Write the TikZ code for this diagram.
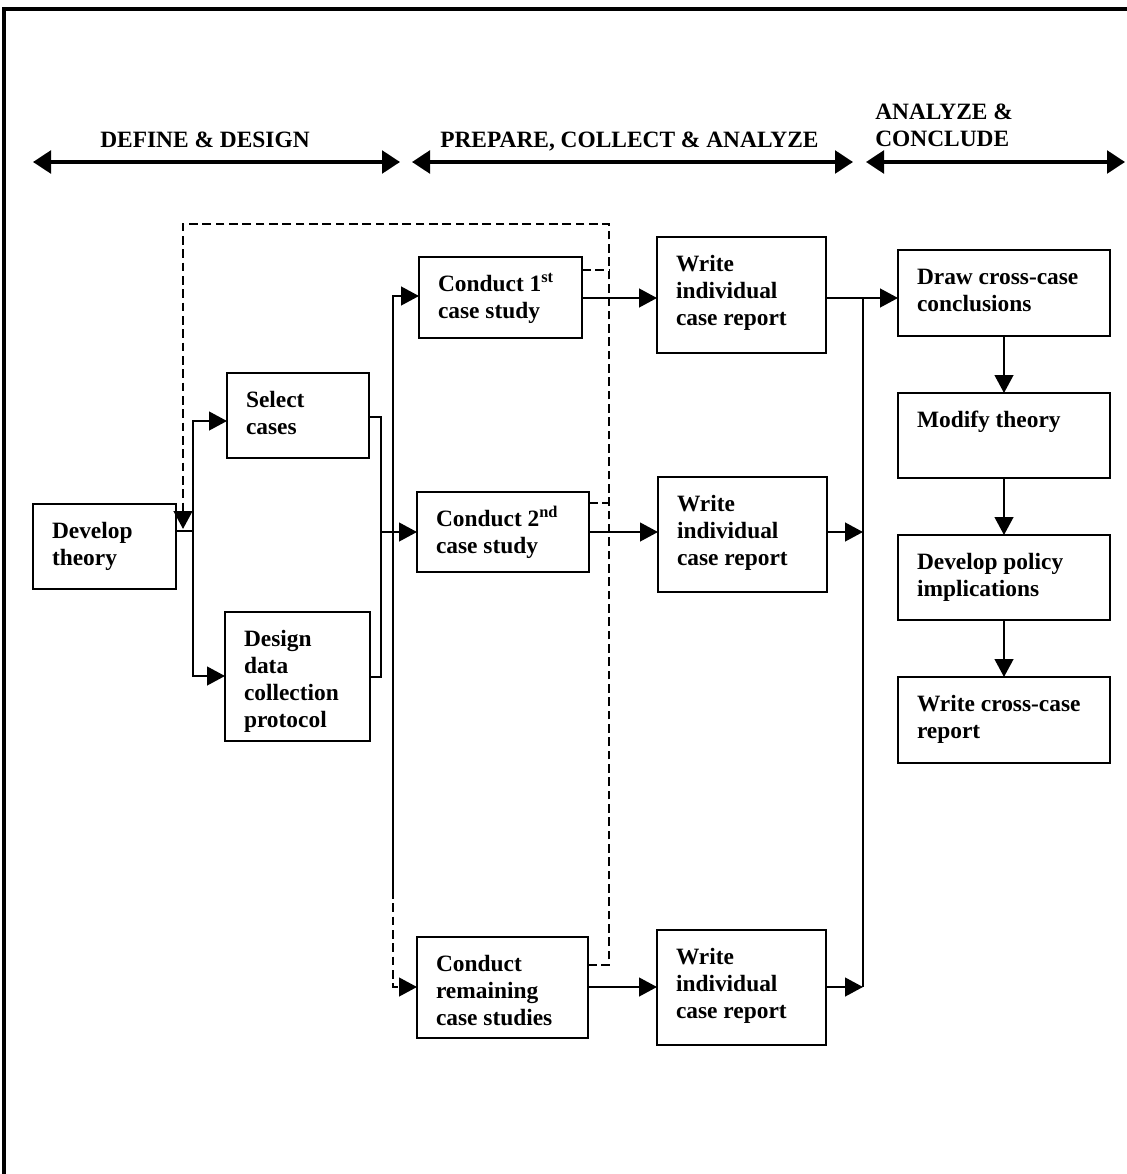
\documentclass[tikz,border=0pt]{standalone}
\usepackage{fontspec}
\setmainfont{Liberation Serif}
\usetikzlibrary{arrows.meta,calc}

% stacked left-aligned lines whose reference point is the first baseline
\newcommand\stk[1]{\begin{tabular}[t]{@{}l@{}}#1\end{tabular}}

\tikzset{
  boxstyle/.style={draw, line width=2.1pt, rectangle, inner sep=0pt, outer sep=0pt},
  stagetext/.style={inner sep=0pt, outer sep=0pt,
    font=\bfseries\fontsize{17.55}{20.25}\selectfont},
  lab/.style={inner sep=0pt, font=\bfseries\fontsize{17.55}{20.25}\selectfont},
  conn/.style={line width=1.8pt, >={Triangle[length=13.5pt,width=14pt]}},
  fb/.style={conn, dash pattern=on 6.5pt off 3.5pt},
  phase/.style={line width=2.6pt, {Triangle[length=13.5pt,width=17pt]}-{Triangle[length=13.5pt,width=17pt]}},
}

% #1 name, (#2,#3) top-left corner, (#4,#5) bottom-right corner, #6 text
\newcommand\stage[6]{%
  \node[boxstyle, anchor=north west,
        minimum width={(#4-#2)*0.75pt}, minimum height={(#5-#3)*0.75pt}] (#1) at (#2,#3) {};
  \node[stagetext, anchor=base west] (#1-t) at ([shift={(19,34)}]#1.north west) {\stk{#6}};
}

\begin{document}
\begin{tikzpicture}[x=0.75pt, y=-0.75pt]
\useasboundingbox (0,0) rectangle (1127,1174);

% outer frame (left and top edges)
\draw[line width=2.4pt] (4,1174) -- (4,9) -- (1127,9);

% phase headings
\node[lab, anchor=base] (h1) at (205,147) {DEFINE \& DESIGN};
\node[lab, anchor=base west] (h2) at (440,147) {PREPARE, COLLECT \& ANALYZE};
\node[lab, anchor=base west] (h3) at (875,119) {\stk{ANALYZE \&\\CONCLUDE}};
\coordinate (p1a) at (33,162);  \coordinate (p1b) at (400,162);
\coordinate (p2a) at (412,162); \coordinate (p2b) at (853,162);
\coordinate (p3a) at (866,162); \coordinate (p3b) at (1125,162);
\draw[phase] (p1a) -- (p1b);
\draw[phase] (p2a) -- (p2b);
\draw[phase] (p3a) -- (p3b);

% stages
\stage{dt}{33}{504}{176}{589}{Develop\\theory}
\stage{sc}{227}{373}{369}{458}{Select\\cases}
\stage{dd}{225}{612}{370}{741}{Design\\data\\collection\\protocol}
\stage{c1}{419}{257}{582}{338}{Conduct 1\textsuperscript{st}\\case study}
\stage{c2}{417}{492}{589}{572}{Conduct 2\textsuperscript{nd}\\case study}
\stage{cr}{417}{937}{588}{1038}{Conduct\\remaining\\case studies}
\stage{w1}{657}{237}{826}{353}{Write\\individual\\case report}
\stage{w2}{658}{477}{827}{592}{Write\\individual\\case report}
\stage{w3}{657}{930}{826}{1045}{Write\\individual\\case report}
\stage{dc}{898}{250}{1110}{336}{Draw cross-case\\conclusions}
\stage{mt}{898}{393}{1110}{478}{Modify theory}
\stage{dp}{898}{535}{1110}{620}{Develop policy\\implications}
\stage{wr}{898}{677}{1110}{763}{Write cross-case\\report}

% junction points
\coordinate (split) at (193,531);
\coordinate (merge) at (381,532);
\coordinate (busTop) at (393,296);
\coordinate (busMid) at (393,890);
\coordinate (busBot) at (393,987);
\coordinate (collect) at (863,298);
\coordinate (collectBot) at (863,987);
\coordinate (fbTop) at (609,224);
\coordinate (fbBot) at (609,965);
\coordinate (fbLeft) at (183,224);
\coordinate (fbEnd) at (183,529);

% define & design
\draw[conn] (dt.east |- split) -- (split);
\draw[conn,->] (split) |- (sc.west |- 0,421);
\draw[conn,->] (split) |- (dd.west |- 0,676);
\draw[conn] (sc.east |- 0,417) -| (merge) |- (dd.east |- 0,677);
\draw[conn,->] (merge) -- (c2.west |- merge);
\draw[conn,->] (busMid) -- (busTop) -- (c1.west |- busTop);
\draw[conn,dash pattern=on 6.5pt off 3.5pt,->] (busMid) -- (busBot) -- (cr.west |- busBot);

% case studies to reports
\draw[conn,->] (c1.east |- collect) -- (w1.west |- collect);
\draw[conn,->] (c2.east |- merge) -- (w2.west |- merge);
\draw[conn,->] (cr.east |- busBot) -- (w3.west |- busBot);

% reports to cross-case analysis
\draw[conn,->] (w1.east |- collect) -- (dc.west |- collect);
\draw[conn] (collect) -- (collectBot);
\draw[conn,->] (w2.east |- merge) -- (collect |- merge);
\draw[conn,->] (w3.east |- busBot) -- (collectBot);

\draw[conn,->] (dc.south) -- (mt.north);
\draw[conn,->] (mt.south) -- (dp.north);
\draw[conn,->] (dp.south) -- (wr.north);

% feedback loop
\draw[fb] (c1.east |- 0,270) -- (fbTop |- 0,270);
\draw[fb] (c2.east |- 0,503) -- (fbTop |- 0,503);
\draw[fb,->] (cr.east |- fbBot) -- (fbBot) -- (fbTop) -- (fbLeft) -- (fbEnd);
\end{tikzpicture}
\end{document}
